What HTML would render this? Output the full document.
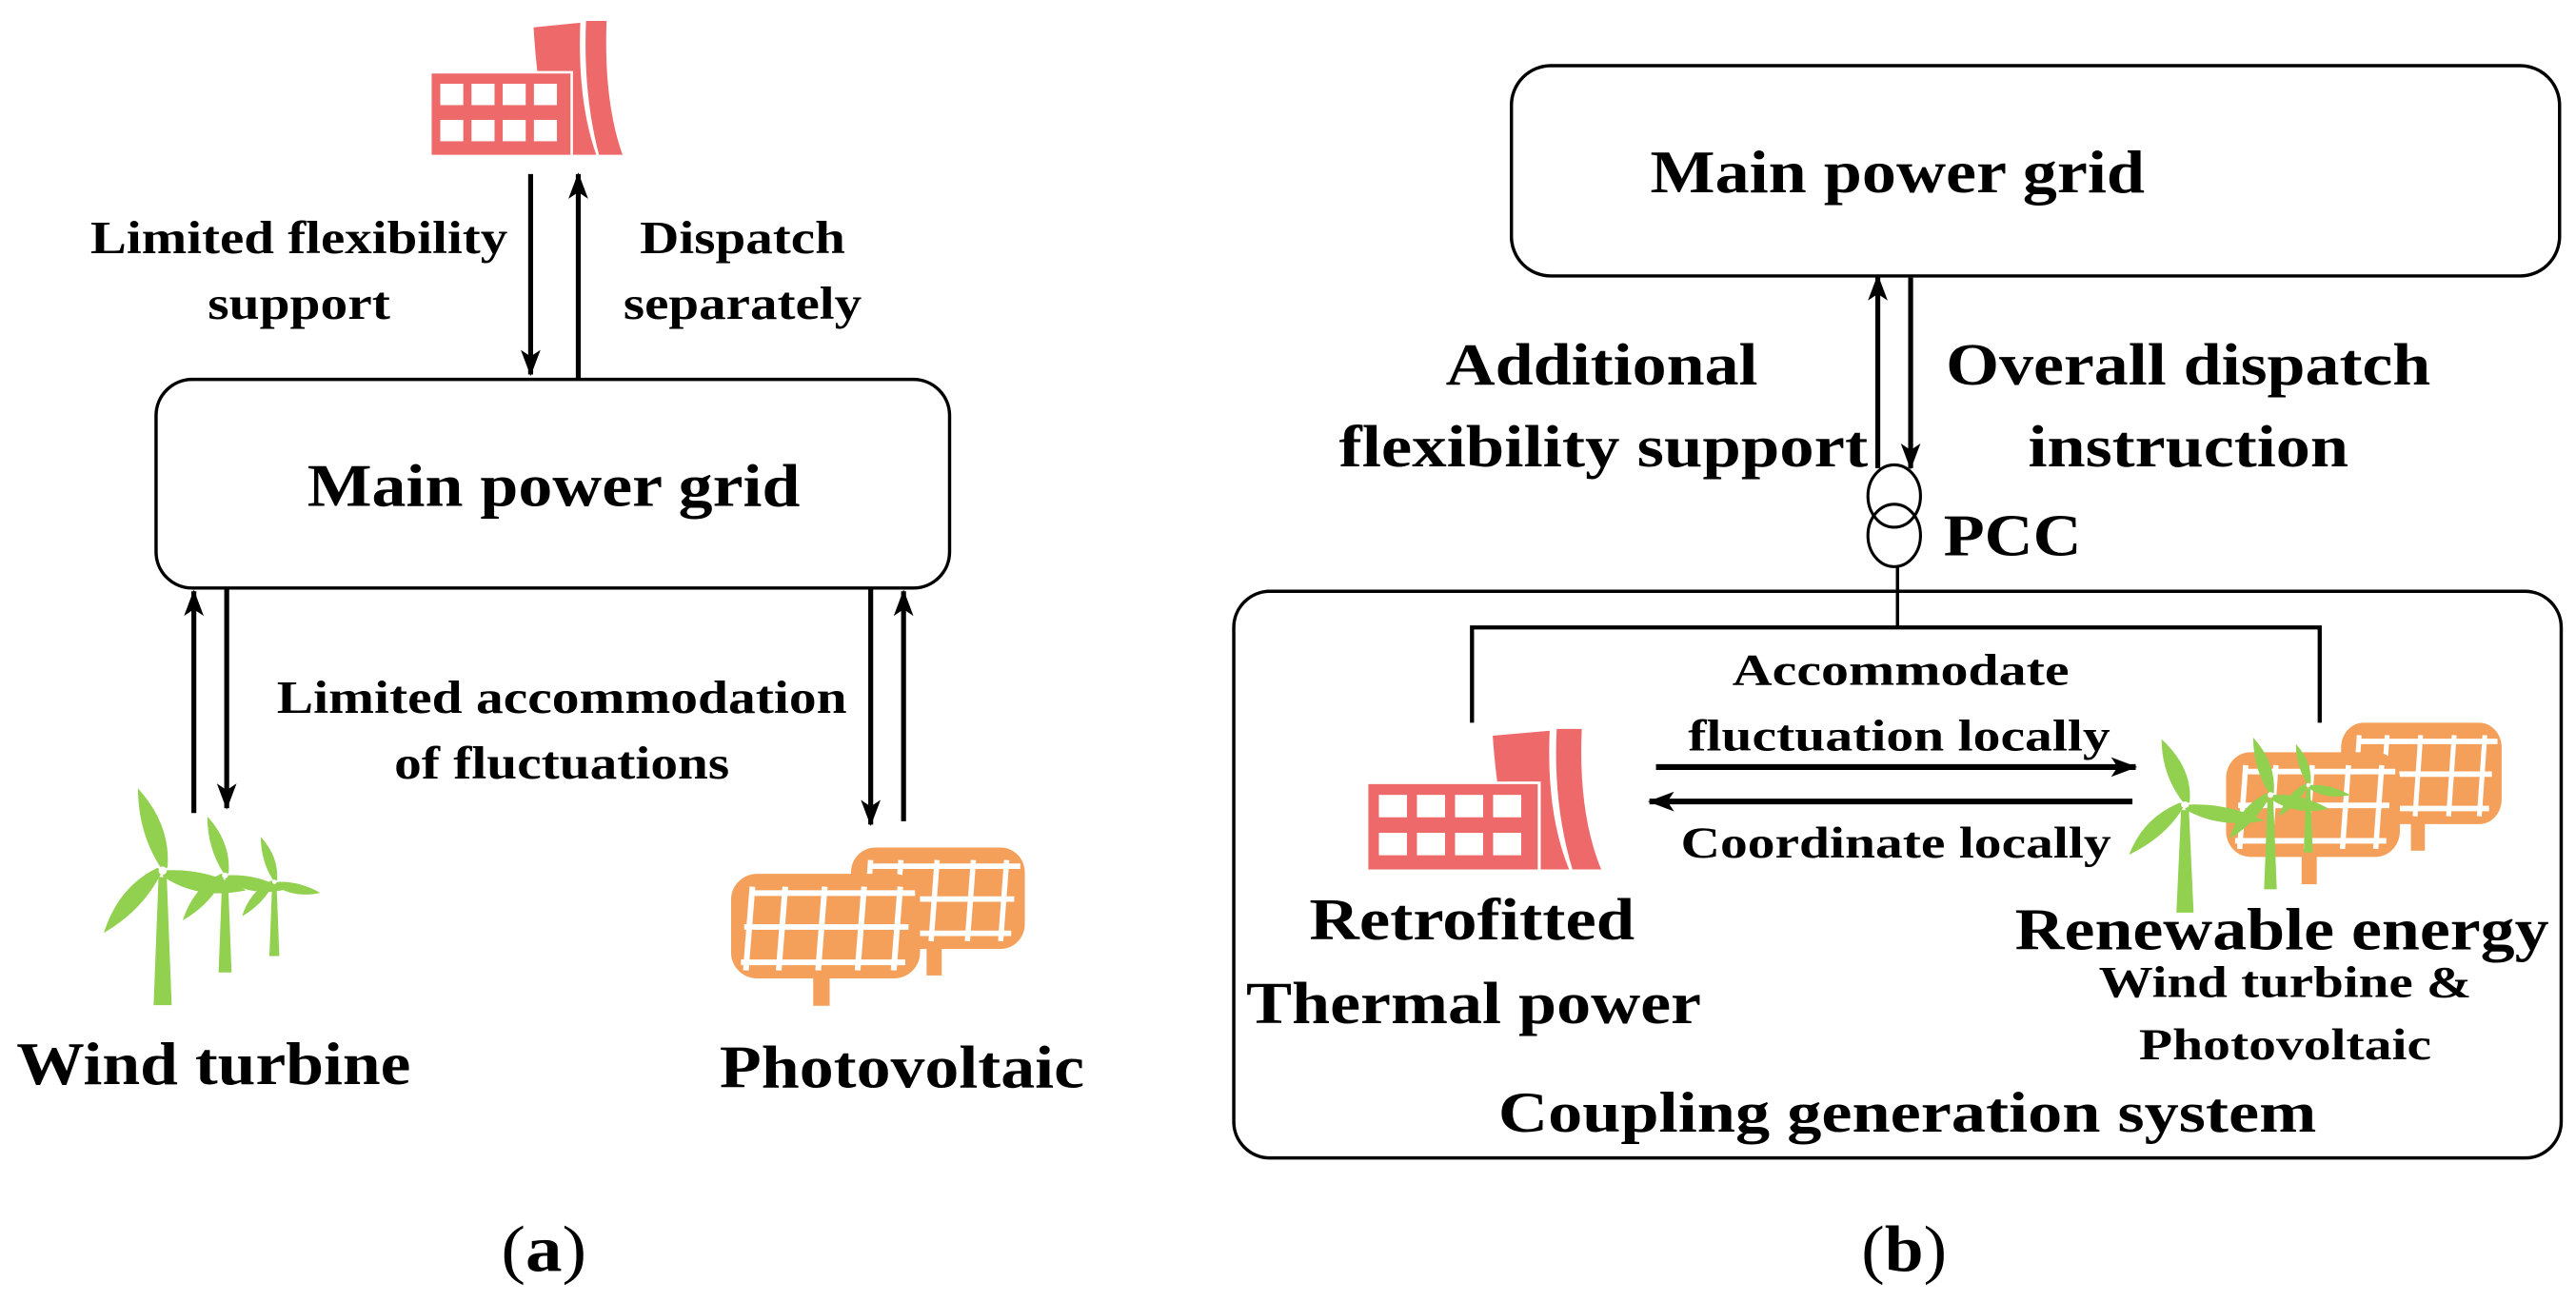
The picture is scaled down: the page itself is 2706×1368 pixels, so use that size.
<!DOCTYPE html>
<html><head><meta charset="utf-8"><style>
html,body{margin:0;padding:0;background:#fff;}
svg{display:block;}
text{font-family:"Liberation Serif","DejaVu Serif",serif;font-weight:bold;fill:#000;}
</style></head><body>
<svg width="2706" height="1368" viewBox="0 0 1568 792.7" preserveAspectRatio="none" xmlns="http://www.w3.org/2000/svg" font-family="Liberation Serif, serif">
<defs>
<marker id="ah" viewBox="0 0 16 12" refX="15" refY="6" markerWidth="16" markerHeight="12" markerUnits="userSpaceOnUse" orient="auto">
<path d="M0,0 L16,6 L0,12 L4,6 Z" fill="#000"/>
</marker>
<g id="factory">
<path d="M62,4 L92,1 Q90,50 102,83 L72,83 Q64,40 62,4 Z" fill="#EE6A6A" stroke="#fff" stroke-width="1.5"/>
<path d="M94,0 L108,0 Q106,50 118,83 L102,83 Q92,45 94,0 Z" fill="#EE6A6A" stroke="#fff" stroke-width="1.5"/>
<rect x="0" y="32" width="86" height="51" fill="#EE6A6A" stroke="#fff" stroke-width="1.5"/>
<g fill="#fff">
<rect x="6" y="39" width="14" height="13"/><rect x="25" y="39" width="14" height="13"/><rect x="44" y="39" width="14" height="13"/><rect x="63" y="39" width="14" height="13"/>
<rect x="6" y="61" width="14" height="13"/><rect x="25" y="61" width="14" height="13"/><rect x="44" y="61" width="14" height="13"/><rect x="63" y="61" width="14" height="13"/>
</g>
</g>
<g id="turb">
<polygon points="-2.5,4 2.5,4 5.5,82 -5.5,82" fill="#92D050"/>
<g fill="#92D050">
<path d="M0,0 Q-15,-22 -15,-50 Q5,-28 3,-2 Z"/>
<path d="M0,0 Q-15,-22 -15,-50 Q5,-28 3,-2 Z" transform="rotate(120)"/>
<path d="M0,0 Q-15,-22 -15,-50 Q5,-28 3,-2 Z" transform="rotate(240)"/>
</g>
<circle cx="0" cy="0" r="2.5" fill="#fff"/>
</g>
<g id="pv">
<rect x="0" y="0" width="115" height="65" rx="16" fill="#F4A05A"/>
<rect x="50" y="64" width="10" height="18" fill="#F4A05A"/>
<g stroke="#fff" stroke-width="3.5" fill="none">
<line x1="8" y1="33" x2="108" y2="33"/>
<line x1="12" y1="12" x2="112" y2="12" />
<line x1="6" y1="55" x2="106" y2="55"/>
<line x1="33" y1="8" x2="29" y2="60"/>
<line x1="57" y1="8" x2="53" y2="60"/>
<line x1="81" y1="8" x2="77" y2="60"/>
<line x1="13" y1="8" x2="9" y2="60"/>
<line x1="103" y1="8" x2="99" y2="60"/>
</g>
</g>
</defs>

<!-- ===== (a) ===== -->
<use href="#factory" transform="translate(262,12)"/>
<line x1="323" y1="106" x2="323" y2="228" stroke="#000" stroke-width="3" marker-end="url(#ah)"/>
<line x1="352" y1="231" x2="352" y2="106" stroke="#000" stroke-width="3" marker-end="url(#ah)"/>
<text x="182" y="154" font-size="28" text-anchor="middle" textLength="254" lengthAdjust="spacingAndGlyphs">Limited flexibility</text>
<text x="182" y="194" font-size="28" text-anchor="middle" textLength="111" lengthAdjust="spacingAndGlyphs">support</text>
<text x="452" y="154" font-size="28" text-anchor="middle" textLength="125" lengthAdjust="spacingAndGlyphs">Dispatch</text>
<text x="452" y="194" font-size="28" text-anchor="middle" textLength="145" lengthAdjust="spacingAndGlyphs">separately</text>
<rect x="95" y="231" width="483" height="127" rx="22" fill="#fff" stroke="#000" stroke-width="2"/>
<text x="337" y="308" font-size="37" text-anchor="middle" textLength="300" lengthAdjust="spacingAndGlyphs">Main power grid</text>
<line x1="118" y1="495" x2="118" y2="360" stroke="#000" stroke-width="3" marker-end="url(#ah)"/>
<line x1="138" y1="359" x2="138" y2="492" stroke="#000" stroke-width="3" marker-end="url(#ah)"/>
<line x1="530" y1="359" x2="530" y2="502" stroke="#000" stroke-width="3" marker-end="url(#ah)"/>
<line x1="550" y1="500" x2="550" y2="360" stroke="#000" stroke-width="3" marker-end="url(#ah)"/>
<text x="342" y="434" font-size="28" text-anchor="middle" textLength="347" lengthAdjust="spacingAndGlyphs">Limited accommodation</text>
<text x="342" y="474" font-size="28" text-anchor="middle" textLength="204" lengthAdjust="spacingAndGlyphs">of fluctuations</text>
<use href="#turb" transform="translate(167,537) scale(0.55)"/>
<use href="#turb" transform="translate(137,533) scale(0.72)"/>
<use href="#turb" transform="translate(99,530) scale(1)"/>
<use href="#pv" transform="translate(518,516) scale(0.92,0.95)"/>
<use href="#pv" transform="translate(445,532) scale(1,0.98)"/>
<text x="130" y="660" font-size="37" text-anchor="middle" textLength="240" lengthAdjust="spacingAndGlyphs">Wind turbine</text>
<text x="549" y="662" font-size="37" text-anchor="middle" textLength="222" lengthAdjust="spacingAndGlyphs">Photovoltaic</text>
<text x="331" y="774" font-size="40" text-anchor="middle" style="font-weight:normal" textLength="52" lengthAdjust="spacingAndGlyphs">(<tspan style="font-weight:bold">a</tspan>)</text>

<!-- ===== (b) ===== -->
<rect x="920" y="40" width="638" height="128" rx="24" fill="#fff" stroke="#000" stroke-width="2"/>
<text x="1155" y="117" font-size="37" text-anchor="middle" textLength="301" lengthAdjust="spacingAndGlyphs">Main power grid</text>
<line x1="1143" y1="285" x2="1143" y2="168" stroke="#000" stroke-width="3" marker-end="url(#ah)"/>
<line x1="1163" y1="169" x2="1163" y2="285" stroke="#000" stroke-width="3" marker-end="url(#ah)"/>
<text x="975" y="234" font-size="36" text-anchor="middle" textLength="190" lengthAdjust="spacingAndGlyphs">Additional</text>
<text x="976" y="284" font-size="36" text-anchor="middle" textLength="322" lengthAdjust="spacingAndGlyphs">flexibility support</text>
<text x="1332" y="234" font-size="36" text-anchor="middle" textLength="295" lengthAdjust="spacingAndGlyphs">Overall dispatch</text>
<text x="1332" y="284" font-size="36" text-anchor="middle" textLength="195" lengthAdjust="spacingAndGlyphs">instruction</text>
<ellipse cx="1153" cy="302" rx="16" ry="19" fill="none" stroke="#000" stroke-width="1.8"/>
<ellipse cx="1153" cy="326" rx="16" ry="19" fill="none" stroke="#000" stroke-width="1.8"/>
<text x="1183" y="338" font-size="36" textLength="84" lengthAdjust="spacingAndGlyphs">PCC</text>
<rect x="751" y="360" width="808" height="345" rx="22" fill="none" stroke="#000" stroke-width="2"/>
<polyline points="1155,345 1155,382" fill="none" stroke="#000" stroke-width="2"/>
<polyline points="896,440 896,382 1412,382 1412,440" fill="none" stroke="#000" stroke-width="2.5"/>
<use href="#factory" transform="translate(832,443) scale(1.22,1.05)"/>
<line x1="1008" y1="467" x2="1300" y2="467" stroke="#000" stroke-width="3.5" marker-end="url(#ah)"/>
<line x1="1298" y1="488" x2="1004" y2="488" stroke="#000" stroke-width="3.5" marker-end="url(#ah)"/>
<text x="1157" y="417" font-size="27" text-anchor="middle" textLength="205" lengthAdjust="spacingAndGlyphs">Accommodate</text>
<text x="1156" y="457" font-size="27" text-anchor="middle" textLength="257" lengthAdjust="spacingAndGlyphs">fluctuation locally</text>
<text x="1154" y="522" font-size="27" text-anchor="middle" textLength="262" lengthAdjust="spacingAndGlyphs">Coordinate locally</text>
<use href="#pv" transform="translate(1425,440) scale(0.85,0.95)"/>
<use href="#pv" transform="translate(1355,458) scale(0.92,0.98)"/>
<use href="#turb" transform="translate(1405,478) scale(0.5)"/>
<use href="#turb" transform="translate(1382,484) scale(0.7)"/>
<use href="#turb" transform="translate(1330,490) scale(0.95,0.8)"/>
<text x="896" y="572" font-size="36" text-anchor="middle" textLength="198" lengthAdjust="spacingAndGlyphs">Retrofitted</text>
<text x="897" y="623" font-size="36" text-anchor="middle" textLength="277" lengthAdjust="spacingAndGlyphs">Thermal power</text>
<text x="1389" y="578" font-size="36" text-anchor="middle" textLength="325" lengthAdjust="spacingAndGlyphs">Renewable energy</text>
<text x="1391" y="607" font-size="27" text-anchor="middle" textLength="227" lengthAdjust="spacingAndGlyphs">Wind turbine &amp;</text>
<text x="1391" y="645" font-size="27" text-anchor="middle" textLength="178" lengthAdjust="spacingAndGlyphs">Photovoltaic</text>
<text x="1161" y="689" font-size="35" text-anchor="middle" textLength="498" lengthAdjust="spacingAndGlyphs">Coupling generation system</text>
<text x="1159" y="774" font-size="40" text-anchor="middle" style="font-weight:normal" textLength="52" lengthAdjust="spacingAndGlyphs">(<tspan style="font-weight:bold">b</tspan>)</text>
</svg>
</body></html>
